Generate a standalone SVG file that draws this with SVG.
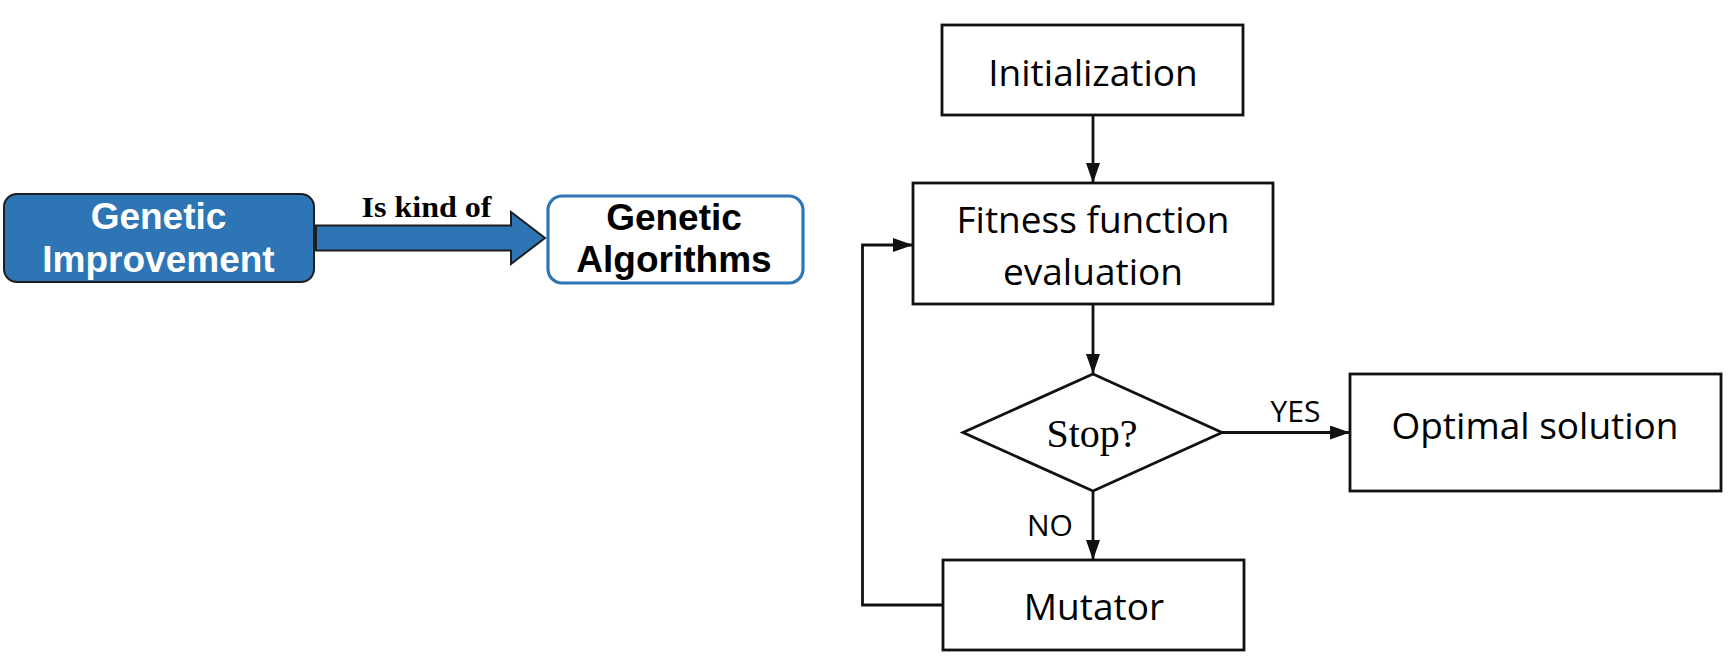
<svg xmlns="http://www.w3.org/2000/svg" width="1729" height="664" viewBox="0 0 1729 664">
<style>
.box{fill:#fff;stroke:#111;stroke-width:2.8}
.lbl{font-family:"Open Sans","Noto Sans",sans-serif;font-size:37px;fill:#000;text-anchor:middle}
.sm{font-family:"Open Sans","Noto Sans",sans-serif;font-size:30px;fill:#000;text-anchor:middle}
.bold{font-family:"Liberation Sans",Arial,sans-serif;font-weight:bold;font-size:37px;text-anchor:middle}
.conn{fill:none;stroke:#111;stroke-width:2.8}
</style>
<defs>
<marker id="ah" markerUnits="userSpaceOnUse" markerWidth="21" markerHeight="15" refX="20" refY="7" orient="auto">
<path d="M0,0 L20,7 L0,14 z" fill="#111"/>
</marker>
</defs>
<rect width="1729" height="664" fill="#fff"/>
<g id="genetic-improvement">
<rect x="4" y="194" width="310" height="88" rx="13" fill="#2E75B6" stroke="#1e1e1e" stroke-width="2"/>
<text class="bold" x="158.5" y="229" fill="#fff">Genetic</text>
<text class="bold" x="158.5" y="272" fill="#fff">Improvement</text>
</g>
<g id="genetic-algorithms">
<rect x="548" y="196" width="255" height="87" rx="14" fill="#fff" stroke="#2E75B6" stroke-width="3.2"/>
<text class="bold" x="674" y="230" fill="#000">Genetic</text>
<text class="bold" x="674" y="272" fill="#000">Algorithms</text>
</g>
<g id="initialization">
<rect class="box" x="942" y="25" width="301" height="90"/>
<text class="lbl" x="1093" y="86">Initialization</text>
</g>
<g id="fitness">
<rect class="box" x="913" y="183" width="360" height="121"/>
<text class="lbl" x="1093" y="233">Fitness function</text>
<text class="lbl" x="1093" y="285">evaluation</text>
</g>
<g id="stop">
<polygon class="box" points="1093,374 1222,432.5 1093,491 963,432.5"/>
<text x="1092" y="447" font-family="Liberation Serif,'Times New Roman',serif" font-size="40" text-anchor="middle" fill="#000">Stop?</text>
</g>
<g id="optimal">
<rect class="box" x="1350" y="374" width="371" height="117"/>
<text class="lbl" x="1535" y="439">Optimal solution</text>
</g>
<g id="mutator">
<rect class="box" x="943" y="560" width="301" height="90"/>
<text class="lbl" x="1094" y="620">Mutator</text>
</g>
<g id="connectors">
<polygon points="316,225.5 511,225.5 511,212 545,238 511,264 511,250.5 316,250.5" fill="#2E75B6" stroke="#1e1e1e" stroke-width="2" stroke-linejoin="miter"/>
<text x="426.5" y="216.5" font-family="Liberation Serif,'Times New Roman',serif" font-weight="bold" font-size="30" text-anchor="middle" textLength="130" lengthAdjust="spacingAndGlyphs" fill="#000">Is kind of</text>
<path class="conn" d="M1093,115 L1093,183" marker-end="url(#ah)"/>
<path class="conn" d="M1093,304 L1093,374" marker-end="url(#ah)"/>
<path class="conn" d="M1222,432.5 L1350,432.5" marker-end="url(#ah)"/>
<path class="conn" d="M1093,491 L1093,560" marker-end="url(#ah)"/>
<path class="conn" d="M943,605 L862.5,605 L862.5,245 L913,245" marker-end="url(#ah)"/>
<text class="sm" x="1295.5" y="421.5">YES</text>
<text class="sm" x="1050" y="536">NO</text>
</g>
</svg>
